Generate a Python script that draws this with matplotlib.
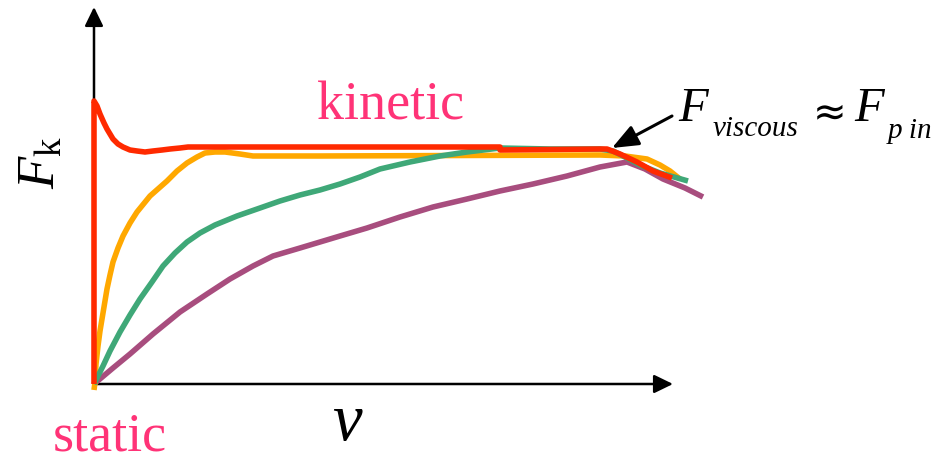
import matplotlib
matplotlib.use('Agg')

import matplotlib.pyplot as plt
from matplotlib.patches import FancyArrowPatch, ArrowStyle

plt.rcParams['mathtext.fontset'] = 'custom'
plt.rcParams['mathtext.it'] = 'Liberation Serif:italic'
plt.rcParams['mathtext.rm'] = 'Liberation Serif'

# Curves as (v, F) pairs (arbitrary units)
red_v = [0, 0, 3, 6, 10, 13, 16, 19, 24, 29, 36, 43, 51, 59, 68, 76, 86, 94,
         406, 406, 506, 513, 526, 543, 559, 578]
red_f = [0, 283, 278, 270, 261, 255, 250, 245, 240, 237, 234, 233, 232, 233, 234, 235, 236, 237,
         237, 234, 235, 235, 230, 222, 213, 206]

orange_v = [0, 1, 2, 4, 6, 8, 13, 16, 19, 24, 29, 36, 43, 56, 73, 83, 93, 103, 111, 121, 131,
            146, 159, 226, 506, 531, 553, 566, 576, 586]
orange_f = [-6, 2, 20, 38, 53, 65, 95, 109, 122, 136, 148, 161, 172, 188, 203, 213, 221, 227, 231,
            232, 232, 230, 228, 228, 229, 228, 225, 219, 213, 205]

green_v = [0, 9, 16, 26, 36, 46, 58, 69, 81, 93, 106, 121, 143, 166, 186, 206, 226, 246, 266,
           286, 316, 346, 373, 406, 456, 506, 519, 531, 546, 566, 594]
green_f = [0, 18, 33, 52, 69, 85, 102, 118, 131, 142, 151, 159, 168, 176, 183, 189, 194, 200, 207,
           215, 222, 228, 232, 236, 235, 235, 233, 227, 219, 211, 203]

purple_v = [0, 19, 36, 59, 86, 113, 136, 159, 179, 206, 226, 246, 273, 306, 339, 373, 406, 439,
            473, 506, 533, 551, 569, 591, 609]
purple_f = [0, 16, 30, 50, 72, 90, 105, 118, 128, 136, 142, 148, 156, 167, 177, 185, 193, 200,
            208, 217, 222, 215, 205, 196, 187]

v_max = 579   # x-axis arrow tip
f_max = 377   # y-axis arrow tip

pink = '#FF3377'
serif = 'Liberation Serif'

fig = plt.figure(figsize=(9.38, 4.56), dpi=100)
ax = fig.add_axes([0, 0, 1, 1])
ax.set_xlim(-94, 844)
ax.set_ylim(-71, 385)
ax.axis('off')

# axes with arrow heads
axis_style = ArrowStyle('-|>', head_length=11.5, head_width=5.6)
for end in [(0, f_max), (v_max, 0)]:
    ax.add_patch(FancyArrowPatch((0, 0), end, arrowstyle=axis_style, lw=1.8,
                                 color='black', shrinkA=0, shrinkB=0, zorder=1))

lw = 4.0
style = dict(lw=lw, solid_capstyle='butt', solid_joinstyle='round')
ax.plot(purple_v, purple_f, color='#A84D7E', zorder=2, **style)
ax.plot(orange_v, orange_f, color='#FFA800', zorder=3, **style)
ax.plot(green_v, green_f, color='#3FA878', zorder=4, **style)
ax.plot(red_v, red_f, color='#FF2A00', zorder=5, **style)

# labels
ax.text(223, 265, 'kinetic', color=pink, fontsize=39, family=serif, va='baseline')
ax.text(-41, -66, 'static', color=pink, fontsize=39, family=serif, va='baseline')
ax.text(253, -55, 'v', fontsize=48, family=serif, style='italic', ha='center', va='baseline')
ax.text(-54, 222, r'$F_{\mathrm{k}}$', fontsize=38, rotation=90, ha='center', va='center')

# F_viscous ~ F_pin annotation
ax.text(584, 264, 'F', fontsize=35, family=serif, style='italic', va='baseline')
ax.text(619, 249, 'viscous', fontsize=21, family=serif, style='italic', va='baseline')
ax.text(736, 261, '\u2248', fontsize=29, family='DejaVu Sans', ha='center', va='baseline')
ax.text(760, 264, 'F', fontsize=35, family=serif, style='italic', va='baseline')
ax.text(794, 247, 'p in', fontsize=21, family=serif, style='italic', va='baseline')

ax.add_patch(FancyArrowPatch((578, 268), (518, 236),
                             arrowstyle=ArrowStyle('-|>', head_length=16, head_width=6.5),
                             lw=2.2, color='black', shrinkA=0, shrinkB=0, zorder=6))

plt.savefig('out.png', dpi=100)
